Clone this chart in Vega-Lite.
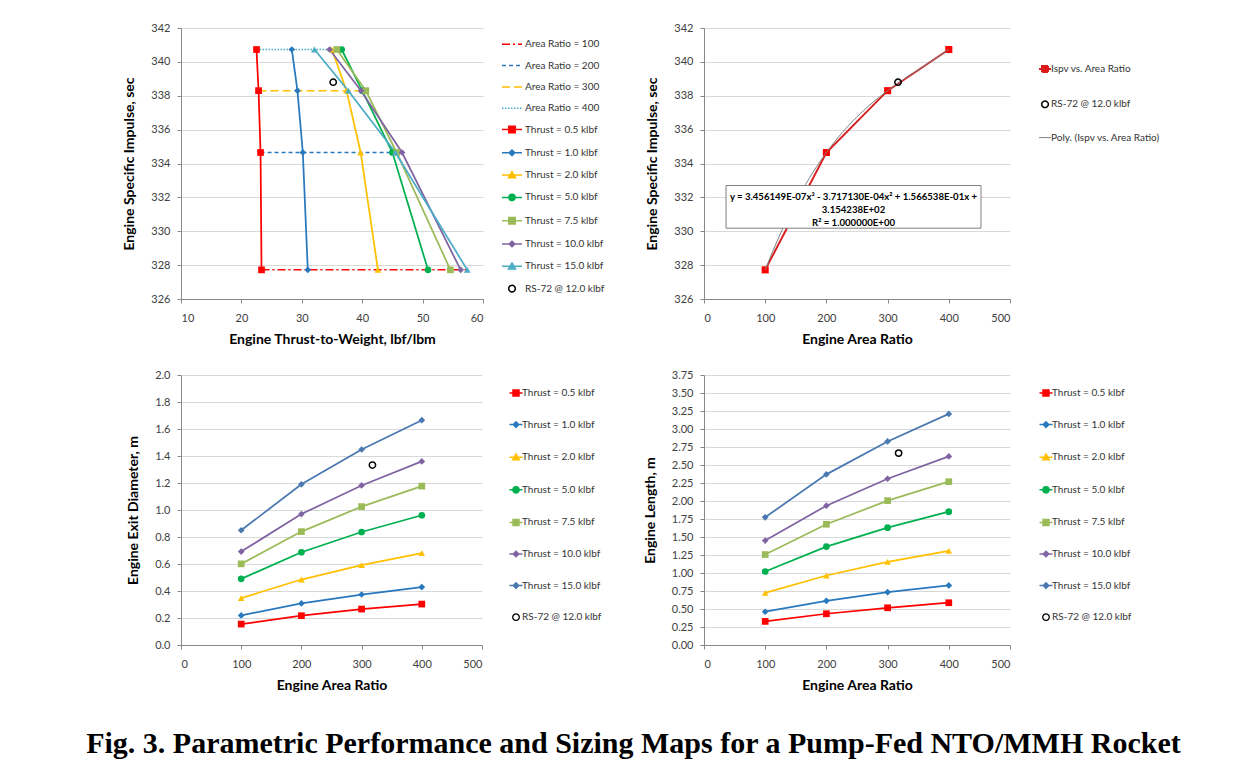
{
  "$schema": "https://vega.github.io/schema/vega-lite/v6.json",
  "background": "white",
  "padding": {"left": 85, "top": 22, "right": 5, "bottom": 5},
  "datasets": {
    "tl": [
      {"thrust": "Thrust = 0.5 klbf", "ar": "Area Ratio = 100", "tw": 23.33, "isp": 327.72},
      {"thrust": "Thrust = 0.5 klbf", "ar": "Area Ratio = 200", "tw": 23.17, "isp": 334.65},
      {"thrust": "Thrust = 0.5 klbf", "ar": "Area Ratio = 300", "tw": 22.84, "isp": 338.30},
      {"thrust": "Thrust = 0.5 klbf", "ar": "Area Ratio = 400", "tw": 22.50, "isp": 340.73},
      {"thrust": "Thrust = 1.0 klbf", "ar": "Area Ratio = 100", "tw": 30.99, "isp": 327.72},
      {"thrust": "Thrust = 1.0 klbf", "ar": "Area Ratio = 200", "tw": 30.17, "isp": 334.65},
      {"thrust": "Thrust = 1.0 klbf", "ar": "Area Ratio = 300", "tw": 29.28, "isp": 338.30},
      {"thrust": "Thrust = 1.0 klbf", "ar": "Area Ratio = 400", "tw": 28.35, "isp": 340.73},
      {"thrust": "Thrust = 2.0 klbf", "ar": "Area Ratio = 100", "tw": 42.60, "isp": 327.72},
      {"thrust": "Thrust = 2.0 klbf", "ar": "Area Ratio = 200", "tw": 39.75, "isp": 334.65},
      {"thrust": "Thrust = 2.0 klbf", "ar": "Area Ratio = 300", "tw": 37.40, "isp": 338.30},
      {"thrust": "Thrust = 2.0 klbf", "ar": "Area Ratio = 400", "tw": 35.00, "isp": 340.73},
      {"thrust": "Thrust = 5.0 klbf", "ar": "Area Ratio = 100", "tw": 50.90, "isp": 327.72},
      {"thrust": "Thrust = 5.0 klbf", "ar": "Area Ratio = 200", "tw": 45.00, "isp": 334.65},
      {"thrust": "Thrust = 5.0 klbf", "ar": "Area Ratio = 300", "tw": 40.00, "isp": 338.30},
      {"thrust": "Thrust = 5.0 klbf", "ar": "Area Ratio = 400", "tw": 36.60, "isp": 340.73},
      {"thrust": "Thrust = 7.5 klbf", "ar": "Area Ratio = 100", "tw": 54.60, "isp": 327.72},
      {"thrust": "Thrust = 7.5 klbf", "ar": "Area Ratio = 200", "tw": 45.70, "isp": 334.65},
      {"thrust": "Thrust = 7.5 klbf", "ar": "Area Ratio = 300", "tw": 40.60, "isp": 338.30},
      {"thrust": "Thrust = 7.5 klbf", "ar": "Area Ratio = 400", "tw": 35.80, "isp": 340.73},
      {"thrust": "Thrust = 10.0 klbf", "ar": "Area Ratio = 100", "tw": 56.30, "isp": 327.72},
      {"thrust": "Thrust = 10.0 klbf", "ar": "Area Ratio = 200", "tw": 46.60, "isp": 334.65},
      {"thrust": "Thrust = 10.0 klbf", "ar": "Area Ratio = 300", "tw": 39.80, "isp": 338.30},
      {"thrust": "Thrust = 10.0 klbf", "ar": "Area Ratio = 400", "tw": 34.60, "isp": 340.73},
      {"thrust": "Thrust = 15.0 klbf", "ar": "Area Ratio = 100", "tw": 57.40, "isp": 327.72},
      {"thrust": "Thrust = 15.0 klbf", "ar": "Area Ratio = 200", "tw": 45.50, "isp": 334.65},
      {"thrust": "Thrust = 15.0 klbf", "ar": "Area Ratio = 300", "tw": 37.70, "isp": 338.30},
      {"thrust": "Thrust = 15.0 klbf", "ar": "Area Ratio = 400", "tw": 32.10, "isp": 340.73}
    ],
    "ispv": [
      {"area": 100, "isp": 327.72},
      {"area": 200, "isp": 334.65},
      {"area": 300, "isp": 338.30},
      {"area": 400, "isp": 340.73}
    ],
    "sz": [
      {"thrust": "Thrust = 0.5 klbf", "area": 100, "de": 0.155, "len": 0.328},
      {"thrust": "Thrust = 0.5 klbf", "area": 200, "de": 0.217, "len": 0.434},
      {"thrust": "Thrust = 0.5 klbf", "area": 300, "de": 0.266, "len": 0.517},
      {"thrust": "Thrust = 0.5 klbf", "area": 400, "de": 0.303, "len": 0.587},
      {"thrust": "Thrust = 1.0 klbf", "area": 100, "de": 0.219, "len": 0.462},
      {"thrust": "Thrust = 1.0 klbf", "area": 200, "de": 0.308, "len": 0.614},
      {"thrust": "Thrust = 1.0 klbf", "area": 300, "de": 0.374, "len": 0.734},
      {"thrust": "Thrust = 1.0 klbf", "area": 400, "de": 0.429, "len": 0.827},
      {"thrust": "Thrust = 2.0 klbf", "area": 100, "de": 0.347, "len": 0.725},
      {"thrust": "Thrust = 2.0 klbf", "area": 200, "de": 0.485, "len": 0.965},
      {"thrust": "Thrust = 2.0 klbf", "area": 300, "de": 0.591, "len": 1.155},
      {"thrust": "Thrust = 2.0 klbf", "area": 400, "de": 0.680, "len": 1.307},
      {"thrust": "Thrust = 5.0 klbf", "area": 100, "de": 0.490, "len": 1.021},
      {"thrust": "Thrust = 5.0 klbf", "area": 200, "de": 0.687, "len": 1.367},
      {"thrust": "Thrust = 5.0 klbf", "area": 300, "de": 0.837, "len": 1.630},
      {"thrust": "Thrust = 5.0 klbf", "area": 400, "de": 0.961, "len": 1.852},
      {"thrust": "Thrust = 7.5 klbf", "area": 100, "de": 0.601, "len": 1.256},
      {"thrust": "Thrust = 7.5 klbf", "area": 200, "de": 0.840, "len": 1.677},
      {"thrust": "Thrust = 7.5 klbf", "area": 300, "de": 1.025, "len": 2.005},
      {"thrust": "Thrust = 7.5 klbf", "area": 400, "de": 1.177, "len": 2.268},
      {"thrust": "Thrust = 10.0 klbf", "area": 100, "de": 0.692, "len": 1.450},
      {"thrust": "Thrust = 10.0 klbf", "area": 200, "de": 0.970, "len": 1.935},
      {"thrust": "Thrust = 10.0 klbf", "area": 300, "de": 1.182, "len": 2.309},
      {"thrust": "Thrust = 10.0 klbf", "area": 400, "de": 1.360, "len": 2.619},
      {"thrust": "Thrust = 15.0 klbf", "area": 100, "de": 0.850, "len": 1.774},
      {"thrust": "Thrust = 15.0 klbf", "area": 200, "de": 1.190, "len": 2.370},
      {"thrust": "Thrust = 15.0 klbf", "area": 300, "de": 1.448, "len": 2.827},
      {"thrust": "Thrust = 15.0 klbf", "area": 400, "de": 1.665, "len": 3.210}
    ]
  },
  "title": {
    "text": "Fig. 3. Parametric Performance and Sizing Maps for a Pump-Fed NTO/MMH Rocket",
    "orient": "bottom",
    "anchor": "middle",
    "font": "Liberation Serif",
    "fontSize": 30,
    "fontWeight": "bold",
    "color": "#000000",
    "offset": 37,
    "dx": -8
  },
  "spacing": 23,
  "resolve": {"scale": {"color": "independent", "shape": "independent", "strokeDash": "independent"}, "legend": {"color": "independent", "shape": "independent", "strokeDash": "independent"}},
  "vconcat": [
    {
      "spacing": 221,
      "bounds": "flush",
      "resolve": {"scale": {"color": "independent", "shape": "independent", "strokeDash": "independent"}, "legend": {"color": "independent", "shape": "independent", "strokeDash": "independent"}},
      "hconcat": [
        {
          "width": 302,
          "height": 271,
          "data": {"name": "tl"},
          "encoding": {
            "x": {"field": "tw", "type": "quantitative", "scale": {"domain": [10, 60], "nice": false, "zero": false}, "axis": {"values": [10, 20, 30, 40, 50, 60], "title": "Engine Thrust-to-Weight, lbf/lbm"}},
            "y": {"field": "isp", "type": "quantitative", "scale": {"domain": [326, 342], "nice": false, "zero": false}, "axis": {"values": [326, 328, 330, 332, 334, 336, 338, 340, 342], "title": "Engine Specific Impulse, sec"}}
          },
          "layer": [
            {
              "mark": {"type": "line", "strokeWidth": 1.5},
              "encoding": {
                "detail": {"field": "ar", "type": "nominal"},
                "color": {"field": "ar", "type": "nominal",
                  "scale": {"domain": ["Area Ratio = 100", "Area Ratio = 200", "Area Ratio = 300", "Area Ratio = 400", "Thrust = 0.5 klbf", "Thrust = 1.0 klbf", "Thrust = 2.0 klbf", "Thrust = 5.0 klbf", "Thrust = 7.5 klbf", "Thrust = 10.0 klbf", "Thrust = 15.0 klbf", "RS-72 @ 12.0 klbf"],
                            "range": ["#ff0000", "#2878bd", "#ffc000", "#4bacc6", "#ff0000", "#2878bd", "#ffc000", "#00b050", "#9bbb59", "#8064a2", "#4bacc6", "#000000"]},
                  "legend": {
                    "title": null,
                    "legendX": 320,
                    "legendY": 5.3,
                    "symbolSize": 400,
                    "rowPadding": 5.3,
                    "labelOffset": 2,
                    "encode": {
                      "symbols": {
                        "update": {
                          "size": {"value": 400},
                          "opacity": {"value": 1},
                          "fillOpacity": {"signal": "datum.value=='RS-72 @ 12.0 klbf' ? 0 : 1"},
                          "strokeWidth": {"value": 1.5},
                          "shape": {"signal": "(datum.value=='Area Ratio = 100'||datum.value=='Area Ratio = 200'||datum.value=='Area Ratio = 300'||datum.value=='Area Ratio = 400') ? 'M-1,0H1' : datum.value=='RS-72 @ 12.0 klbf' ? 'M-0.33,0A0.33,0.33 0 1,0 0.33,0A0.33,0.33 0 1,0 -0.33,0Z' : (datum.value=='Thrust = 0.5 klbf'||datum.value=='Thrust = 7.5 klbf') ? 'M-1,0H1M-0.32,-0.32H0.32V0.32H-0.32Z' : (datum.value=='Thrust = 1.0 klbf'||datum.value=='Thrust = 10.0 klbf') ? 'M-1,0H1M0,-0.28L0.28,0L0,0.28L-0.28,0Z' : datum.value=='Thrust = 5.0 klbf' ? 'M-1,0H1M-0.32,0A0.32,0.32 0 1,0 0.32,0A0.32,0.32 0 1,0 -0.32,0Z' : 'M-1,0H1M0,-0.34L0.36,0.26H-0.36Z'"},
                          "strokeDash": {"signal": "datum.value=='Area Ratio = 100' ? [8,3,2,3] : datum.value=='Area Ratio = 200' ? [4,3] : datum.value=='Area Ratio = 300' ? [8,4] : datum.value=='Area Ratio = 400' ? [1.5,1.5] : [1,0]"},
                          "stroke": {"signal": "(datum.value=='Area Ratio = 100'||datum.value=='Thrust = 0.5 klbf') ? '#ff0000' : (datum.value=='Area Ratio = 200'||datum.value=='Thrust = 1.0 klbf') ? '#2878bd' : (datum.value=='Area Ratio = 300'||datum.value=='Thrust = 2.0 klbf') ? '#ffc000' : (datum.value=='Area Ratio = 400'||datum.value=='Thrust = 15.0 klbf') ? '#4bacc6' : datum.value=='Thrust = 5.0 klbf' ? '#00b050' : datum.value=='Thrust = 7.5 klbf' ? '#9bbb59' : datum.value=='Thrust = 10.0 klbf' ? '#8064a2' : '#000000'"},
                          "fill": {"signal": "(datum.value=='Area Ratio = 100'||datum.value=='Thrust = 0.5 klbf') ? '#ff0000' : (datum.value=='Area Ratio = 200'||datum.value=='Thrust = 1.0 klbf') ? '#2878bd' : (datum.value=='Area Ratio = 300'||datum.value=='Thrust = 2.0 klbf') ? '#ffc000' : (datum.value=='Area Ratio = 400'||datum.value=='Thrust = 15.0 klbf') ? '#4bacc6' : datum.value=='Thrust = 5.0 klbf' ? '#00b050' : datum.value=='Thrust = 7.5 klbf' ? '#9bbb59' : datum.value=='Thrust = 10.0 klbf' ? '#8064a2' : '#ffffff'"}
                        }
                      }
                    }
                  }
                },
                "strokeDash": {"field": "ar", "type": "nominal", "legend": null,
                  "scale": {"domain": ["Area Ratio = 100", "Area Ratio = 200", "Area Ratio = 300", "Area Ratio = 400"], "range": [[8, 3, 2, 3], [4, 3], [8, 4], [1.5, 1.5]]}}
              }
            },
            {
              "mark": {"type": "line", "strokeWidth": 1.75},
              "encoding": {
                "color": {"field": "thrust", "type": "nominal", "legend": null,
                  "scale": {"domain": ["Area Ratio = 100", "Area Ratio = 200", "Area Ratio = 300", "Area Ratio = 400", "Thrust = 0.5 klbf", "Thrust = 1.0 klbf", "Thrust = 2.0 klbf", "Thrust = 5.0 klbf", "Thrust = 7.5 klbf", "Thrust = 10.0 klbf", "Thrust = 15.0 klbf", "RS-72 @ 12.0 klbf"],
                            "range": ["#ff0000", "#2878bd", "#ffc000", "#4bacc6", "#ff0000", "#2878bd", "#ffc000", "#00b050", "#9bbb59", "#8064a2", "#4bacc6", "#000000"]}}
              }
            },
            {
              "mark": {"type": "point", "filled": true, "size": 45, "opacity": 1},
              "encoding": {
                "color": {"field": "thrust", "type": "nominal", "legend": null,
                  "scale": {"domain": ["Area Ratio = 100", "Area Ratio = 200", "Area Ratio = 300", "Area Ratio = 400", "Thrust = 0.5 klbf", "Thrust = 1.0 klbf", "Thrust = 2.0 klbf", "Thrust = 5.0 klbf", "Thrust = 7.5 klbf", "Thrust = 10.0 klbf", "Thrust = 15.0 klbf", "RS-72 @ 12.0 klbf"],
                            "range": ["#ff0000", "#2878bd", "#ffc000", "#4bacc6", "#ff0000", "#2878bd", "#ffc000", "#00b050", "#9bbb59", "#8064a2", "#4bacc6", "#000000"]}},
                "shape": {"field": "thrust", "type": "nominal", "legend": null,
                  "scale": {"domain": ["Thrust = 0.5 klbf", "Thrust = 1.0 klbf", "Thrust = 2.0 klbf", "Thrust = 5.0 klbf", "Thrust = 7.5 klbf", "Thrust = 10.0 klbf", "Thrust = 15.0 klbf"],
                            "range": ["square", "diamond", "triangle-up", "circle", "square", "diamond", "triangle-up"]}}
              }
            },
            {
              "data": {"values": [{"tw": 35.2, "isp": 338.8}]},
              "mark": {"type": "point", "shape": "circle", "filled": false, "size": 40, "stroke": "#000000", "strokeWidth": 1.5, "opacity": 1}
            }
          ]
        },
        {
          "width": 306,
          "height": 271,
          "data": {"name": "ispv"},
          "layer": [
            {
              "mark": {"type": "line", "strokeWidth": 2},
              "encoding": {
                "x": {"field": "area", "type": "quantitative", "scale": {"domain": [0, 500], "nice": false}, "axis": {"values": [0, 100, 200, 300, 400, 500], "title": "Engine Area Ratio"}},
                "y": {"field": "isp", "type": "quantitative", "scale": {"domain": [326, 342], "nice": false, "zero": false}, "axis": {"values": [326, 328, 330, 332, 334, 336, 338, 340, 342], "title": "Engine Specific Impulse, sec"}},
                "color": {"datum": "Ispv vs. Area Ratio", "type": "nominal",
                  "scale": {"domain": ["Ispv vs. Area Ratio", "RS-72 @ 12.0 klbf", "Poly. (Ispv vs. Area Ratio)"], "range": ["#d92020", "#000000", "#808080"]},
                  "legend": {
                    "title": null,
                    "legendX": 336,
                    "legendY": 36,
                    "symbolSize": 144,
                    "rowPadding": 21.3,
                    "labelOffset": 1,
                    "encode": {
                      "symbols": {
                        "update": {
                          "size": {"value": 144},
                          "opacity": {"value": 1},
                          "fillOpacity": {"signal": "datum.value=='Ispv vs. Area Ratio' ? 1 : 0"},
                          "strokeDash": {"value": [1, 0]},
                          "shape": {"signal": "datum.value=='Ispv vs. Area Ratio' ? 'M-1,0H1M-0.5,-0.5H0.5V0.5H-0.5Z' : datum.value=='RS-72 @ 12.0 klbf' ? 'M-0.55,0A0.55,0.55 0 1,0 0.55,0A0.55,0.55 0 1,0 -0.55,0Z' : 'M-1,0H1'"},
                          "stroke": {"signal": "datum.value=='Ispv vs. Area Ratio' ? '#d92020' : datum.value=='RS-72 @ 12.0 klbf' ? '#000000' : '#808080'"},
                          "fill": {"signal": "datum.value=='Ispv vs. Area Ratio' ? '#ff0000' : '#ffffff'"},
                          "strokeWidth": {"signal": "datum.value=='Ispv vs. Area Ratio' ? 2 : datum.value=='RS-72 @ 12.0 klbf' ? 1.5 : 1"}
                        }
                      }
                    }
                  }
                }
              }
            },
            {
              "mark": {"type": "point", "shape": "square", "filled": true, "size": 50, "color": "#ff0000", "opacity": 1},
              "encoding": {
                "x": {"field": "area", "type": "quantitative", "axis": {"values": [0, 100, 200, 300, 400, 500], "title": "Engine Area Ratio"}},
                "y": {"field": "isp", "type": "quantitative", "axis": {"values": [326, 328, 330, 332, 334, 336, 338, 340, 342], "title": "Engine Specific Impulse, sec"}}
              }
            },
            {
              "transform": [{"regression": "isp", "on": "area", "method": "poly", "order": 3, "extent": [100, 400]}],
              "mark": {"type": "line", "strokeWidth": 1, "color": "#808080"},
              "encoding": {
                "x": {"field": "area", "type": "quantitative", "axis": {"values": [0, 100, 200, 300, 400, 500], "title": "Engine Area Ratio"}},
                "y": {"field": "isp", "type": "quantitative", "axis": {"values": [326, 328, 330, 332, 334, 336, 338, 340, 342], "title": "Engine Specific Impulse, sec"}}
              }
            },
            {
              "data": {"values": [{"area": 317, "isp": 338.8}]},
              "mark": {"type": "point", "shape": "circle", "filled": false, "size": 40, "stroke": "#000000", "strokeWidth": 1.5, "opacity": 1},
              "encoding": {
                "x": {"field": "area", "type": "quantitative", "axis": {"values": [0, 100, 200, 300, 400, 500], "title": "Engine Area Ratio"}},
                "y": {"field": "isp", "type": "quantitative", "axis": {"values": [326, 328, 330, 332, 334, 336, 338, 340, 342], "title": "Engine Specific Impulse, sec"}}
              }
            },
            {
              "data": {"values": [{"note": "Poly. (Ispv vs. Area Ratio)"}]},
              "mark": {"type": "rect", "fill": "#ffffff", "stroke": "#7f7f7f", "strokeWidth": 1},
              "encoding": {
                "x": {"datum": 36, "type": "quantitative", "axis": {"values": [0, 100, 200, 300, 400, 500], "title": "Engine Area Ratio"}},
                "x2": {"datum": 452.6},
                "y": {"datum": 332.7, "type": "quantitative", "axis": {"values": [326, 328, 330, 332, 334, 336, 338, 340, 342], "title": "Engine Specific Impulse, sec"}},
                "y2": {"datum": 330.18}
              }
            },
            {
              "data": {"values": [{"note": "Poly. (Ispv vs. Area Ratio)"}]},
              "mark": {"type": "text", "font": "Lato", "fontSize": 9.6, "fontWeight": "bold", "lineHeight": 13, "align": "center", "baseline": "middle", "color": "#000000"},
              "encoding": {
                "x": {"datum": 244.3, "type": "quantitative", "axis": {"values": [0, 100, 200, 300, 400, 500], "title": "Engine Area Ratio"}},
                "y": {"datum": 332.02, "type": "quantitative", "axis": {"values": [326, 328, 330, 332, 334, 336, 338, 340, 342], "title": "Engine Specific Impulse, sec"}},
                "text": {"value": ["y = 3.456149E-07x³ - 3.717130E-04x² + 1.566538E-01x +", "3.154238E+02", "R² = 1.000000E+00"]}
              }
            }
          ]
        }
      ]
    },
    {
      "spacing": 222,
      "bounds": "flush",
      "resolve": {"scale": {"color": "independent", "shape": "independent", "strokeDash": "independent"}, "legend": {"color": "independent", "shape": "independent", "strokeDash": "independent"}},
      "hconcat": [
        {
          "width": 301,
          "height": 270,
          "data": {"name": "sz"},
          "encoding": {
            "x": {"field": "area", "type": "quantitative", "scale": {"domain": [0, 500], "nice": false}, "axis": {"values": [0, 100, 200, 300, 400, 500], "title": "Engine Area Ratio"}},
            "y": {"field": "de", "type": "quantitative", "scale": {"domain": [0, 2], "nice": false}, "axis": {"values": [0, 0.2, 0.4, 0.6, 0.8, 1.0, 1.2, 1.4, 1.6, 1.8, 2.0], "format": ".1f", "title": "Engine Exit Diameter, m"}}
          },
          "layer": [
            {
              "mark": {"type": "line", "strokeWidth": 1.75},
              "encoding": {
                "color": {"field": "thrust", "type": "nominal",
                  "scale": {"domain": ["Thrust = 0.5 klbf", "Thrust = 1.0 klbf", "Thrust = 2.0 klbf", "Thrust = 5.0 klbf", "Thrust = 7.5 klbf", "Thrust = 10.0 klbf", "Thrust = 15.0 klbf", "RS-72 @ 12.0 klbf"],
                            "range": ["#ff0000", "#2878bd", "#ffc000", "#00b050", "#9bbb59", "#8064a2", "#4a78b0", "#000000"]},
                  "legend": {
                    "title": null,
                    "legendX": 330,
                    "legendY": 13,
                    "symbolSize": 169,
                    "rowPadding": 19.6,
                    "labelOffset": 1,
                    "encode": {
                      "symbols": {
                        "update": {
                          "size": {"value": 169},
                          "opacity": {"value": 1},
                          "fillOpacity": {"signal": "datum.value=='RS-72 @ 12.0 klbf' ? 0 : 1"},
                          "strokeWidth": {"signal": "datum.value=='RS-72 @ 12.0 klbf' ? 1.3 : 1.5"},
                          "strokeDash": {"value": [1, 0]},
                          "shape": {"signal": "datum.value=='RS-72 @ 12.0 klbf' ? 'M-0.5,0A0.5,0.5 0 1,0 0.5,0A0.5,0.5 0 1,0 -0.5,0Z' : (datum.value=='Thrust = 0.5 klbf'||datum.value=='Thrust = 7.5 klbf') ? 'M-1,0H1M-0.46,-0.46H0.46V0.46H-0.46Z' : datum.value=='Thrust = 2.0 klbf' ? 'M-1,0H1M0,-0.5L0.5,0.38H-0.5Z' : datum.value=='Thrust = 5.0 klbf' ? 'M-1,0H1M-0.48,0A0.48,0.48 0 1,0 0.48,0A0.48,0.48 0 1,0 -0.48,0Z' : 'M-1,0H1M0,-0.42L0.42,0L0,0.42L-0.42,0Z'"},
                          "stroke": {"signal": "datum.value=='Thrust = 0.5 klbf' ? '#ff0000' : datum.value=='Thrust = 1.0 klbf' ? '#2878bd' : datum.value=='Thrust = 2.0 klbf' ? '#ffc000' : datum.value=='Thrust = 5.0 klbf' ? '#00b050' : datum.value=='Thrust = 7.5 klbf' ? '#9bbb59' : datum.value=='Thrust = 10.0 klbf' ? '#8064a2' : datum.value=='Thrust = 15.0 klbf' ? '#4a78b0' : '#000000'"},
                          "fill": {"signal": "datum.value=='Thrust = 0.5 klbf' ? '#ff0000' : datum.value=='Thrust = 1.0 klbf' ? '#2878bd' : datum.value=='Thrust = 2.0 klbf' ? '#ffc000' : datum.value=='Thrust = 5.0 klbf' ? '#00b050' : datum.value=='Thrust = 7.5 klbf' ? '#9bbb59' : datum.value=='Thrust = 10.0 klbf' ? '#8064a2' : datum.value=='Thrust = 15.0 klbf' ? '#4a78b0' : '#ffffff'"}
                        }
                      }
                    }
                  }
                }
              }
            },
            {
              "mark": {"type": "point", "filled": true, "size": 45, "opacity": 1},
              "encoding": {
                "color": {"field": "thrust", "type": "nominal", "legend": null,
                  "scale": {"domain": ["Thrust = 0.5 klbf", "Thrust = 1.0 klbf", "Thrust = 2.0 klbf", "Thrust = 5.0 klbf", "Thrust = 7.5 klbf", "Thrust = 10.0 klbf", "Thrust = 15.0 klbf", "RS-72 @ 12.0 klbf"],
                            "range": ["#ff0000", "#2878bd", "#ffc000", "#00b050", "#9bbb59", "#8064a2", "#4a78b0", "#000000"]}},
                "shape": {"field": "thrust", "type": "nominal", "legend": null,
                  "scale": {"domain": ["Thrust = 0.5 klbf", "Thrust = 1.0 klbf", "Thrust = 2.0 klbf", "Thrust = 5.0 klbf", "Thrust = 7.5 klbf", "Thrust = 10.0 klbf", "Thrust = 15.0 klbf"],
                            "range": ["square", "diamond", "triangle-up", "circle", "square", "diamond", "diamond"]}}
              }
            },
            {
              "data": {"values": [{"area": 318, "de": 1.333}]},
              "mark": {"type": "point", "shape": "circle", "filled": false, "size": 40, "stroke": "#000000", "strokeWidth": 1.5, "opacity": 1}
            }
          ]
        },
        {
          "width": 306,
          "height": 270,
          "data": {"name": "sz"},
          "encoding": {
            "x": {"field": "area", "type": "quantitative", "scale": {"domain": [0, 500], "nice": false}, "axis": {"values": [0, 100, 200, 300, 400, 500], "title": "Engine Area Ratio"}},
            "y": {"field": "len", "type": "quantitative", "scale": {"domain": [0, 3.75], "nice": false}, "axis": {"values": [0, 0.25, 0.5, 0.75, 1.0, 1.25, 1.5, 1.75, 2.0, 2.25, 2.5, 2.75, 3.0, 3.25, 3.5, 3.75], "format": ".2f", "title": "Engine Length, m"}}
          },
          "layer": [
            {
              "mark": {"type": "line", "strokeWidth": 1.75},
              "encoding": {
                "color": {"field": "thrust", "type": "nominal",
                  "scale": {"domain": ["Thrust = 0.5 klbf", "Thrust = 1.0 klbf", "Thrust = 2.0 klbf", "Thrust = 5.0 klbf", "Thrust = 7.5 klbf", "Thrust = 10.0 klbf", "Thrust = 15.0 klbf", "RS-72 @ 12.0 klbf"],
                            "range": ["#ff0000", "#2878bd", "#ffc000", "#00b050", "#9bbb59", "#8064a2", "#4a78b0", "#000000"]},
                  "legend": {
                    "title": null,
                    "legendX": 337,
                    "legendY": 13,
                    "symbolSize": 169,
                    "rowPadding": 19.6,
                    "labelOffset": 1,
                    "encode": {
                      "symbols": {
                        "update": {
                          "size": {"value": 169},
                          "opacity": {"value": 1},
                          "fillOpacity": {"signal": "datum.value=='RS-72 @ 12.0 klbf' ? 0 : 1"},
                          "strokeWidth": {"signal": "datum.value=='RS-72 @ 12.0 klbf' ? 1.3 : 1.5"},
                          "strokeDash": {"value": [1, 0]},
                          "shape": {"signal": "datum.value=='RS-72 @ 12.0 klbf' ? 'M-0.5,0A0.5,0.5 0 1,0 0.5,0A0.5,0.5 0 1,0 -0.5,0Z' : (datum.value=='Thrust = 0.5 klbf'||datum.value=='Thrust = 7.5 klbf') ? 'M-1,0H1M-0.46,-0.46H0.46V0.46H-0.46Z' : datum.value=='Thrust = 2.0 klbf' ? 'M-1,0H1M0,-0.5L0.5,0.38H-0.5Z' : datum.value=='Thrust = 5.0 klbf' ? 'M-1,0H1M-0.48,0A0.48,0.48 0 1,0 0.48,0A0.48,0.48 0 1,0 -0.48,0Z' : 'M-1,0H1M0,-0.42L0.42,0L0,0.42L-0.42,0Z'"},
                          "stroke": {"signal": "datum.value=='Thrust = 0.5 klbf' ? '#ff0000' : datum.value=='Thrust = 1.0 klbf' ? '#2878bd' : datum.value=='Thrust = 2.0 klbf' ? '#ffc000' : datum.value=='Thrust = 5.0 klbf' ? '#00b050' : datum.value=='Thrust = 7.5 klbf' ? '#9bbb59' : datum.value=='Thrust = 10.0 klbf' ? '#8064a2' : datum.value=='Thrust = 15.0 klbf' ? '#4a78b0' : '#000000'"},
                          "fill": {"signal": "datum.value=='Thrust = 0.5 klbf' ? '#ff0000' : datum.value=='Thrust = 1.0 klbf' ? '#2878bd' : datum.value=='Thrust = 2.0 klbf' ? '#ffc000' : datum.value=='Thrust = 5.0 klbf' ? '#00b050' : datum.value=='Thrust = 7.5 klbf' ? '#9bbb59' : datum.value=='Thrust = 10.0 klbf' ? '#8064a2' : datum.value=='Thrust = 15.0 klbf' ? '#4a78b0' : '#ffffff'"}
                        }
                      }
                    }
                  }
                }
              }
            },
            {
              "mark": {"type": "point", "filled": true, "size": 45, "opacity": 1},
              "encoding": {
                "color": {"field": "thrust", "type": "nominal", "legend": null,
                  "scale": {"domain": ["Thrust = 0.5 klbf", "Thrust = 1.0 klbf", "Thrust = 2.0 klbf", "Thrust = 5.0 klbf", "Thrust = 7.5 klbf", "Thrust = 10.0 klbf", "Thrust = 15.0 klbf", "RS-72 @ 12.0 klbf"],
                            "range": ["#ff0000", "#2878bd", "#ffc000", "#00b050", "#9bbb59", "#8064a2", "#4a78b0", "#000000"]}},
                "shape": {"field": "thrust", "type": "nominal", "legend": null,
                  "scale": {"domain": ["Thrust = 0.5 klbf", "Thrust = 1.0 klbf", "Thrust = 2.0 klbf", "Thrust = 5.0 klbf", "Thrust = 7.5 klbf", "Thrust = 10.0 klbf", "Thrust = 15.0 klbf"],
                            "range": ["square", "diamond", "triangle-up", "circle", "square", "diamond", "diamond"]}}
              }
            },
            {
              "data": {"values": [{"area": 318, "len": 2.665}]},
              "mark": {"type": "point", "shape": "circle", "filled": false, "size": 40, "stroke": "#000000", "strokeWidth": 1.5, "opacity": 1}
            }
          ]
        }
      ]
    }
  ],
  "config": {
    "font": "Lato",
    "view": {"stroke": null},
    "axis": {"labelFont": "Lato", "labelFontSize": 11, "labelColor": "#404040", "titleFont": "Lato", "titleFontSize": 14, "titleFontWeight": "bold", "titleColor": "#000000", "domainColor": "#888888", "tickColor": "#888888", "tickSize": 4, "gridColor": "#d9d9d9", "labelPadding": 7, "titlePadding": 14},
    "axisX": {"grid": false, "labelPadding": 9, "titlePadding": 9},
    "axisY": {"grid": true},
    "legend": {"orient": "none", "labelFont": "Lato", "labelFontSize": 10, "labelColor": "#333333", "padding": 0, "labelLimit": 300}
  }
}
